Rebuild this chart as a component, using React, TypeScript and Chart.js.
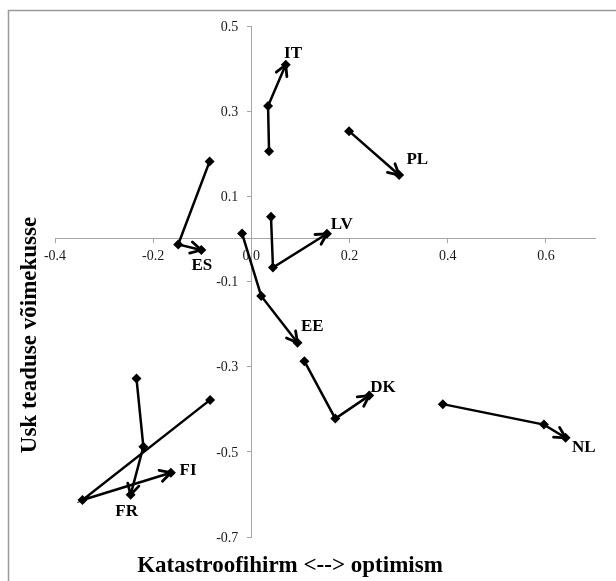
import React, { useEffect, useRef } from 'react';
import { Chart, registerables } from 'chart.js';

Chart.register(...registerables);

// ---- Data ----
const countries = ['IT', 'PL', 'ES', 'LV', 'EE', 'DK', 'NL', 'FR', 'FI'];

const itX = [0.036, 0.034, 0.070];
const itY = [0.206, 0.312, 0.409];
const plX = [0.199, 0.301];
const plY = [0.253, 0.150];
const esX = [-0.085, -0.149, -0.102];
const esY = [0.182, -0.013, -0.026];
const lvX = [0.040, 0.044, 0.154];
const lvY = [0.052, -0.067, 0.012];
const eeX = [-0.019, 0.020, 0.094];
const eeY = [0.013, -0.134, -0.244];
const dkX = [0.108, 0.171, 0.240];
const dkY = [-0.287, -0.422, -0.368];
const nlX = [0.390, 0.596, 0.640];
const nlY = [-0.388, -0.436, -0.467];
const frX = [-0.234, -0.220, -0.246];
const frY = [-0.328, -0.488, -0.601];
const fiX = [-0.084, -0.344, -0.164];
const fiY = [-0.378, -0.613, -0.549];

const seriesX = [itX, plX, esX, lvX, eeX, dkX, nlX, frX, fiX];
const seriesY = [itY, plY, esY, lvY, eeY, dkY, nlY, frY, fiY];

// label anchor positions in data units
const labelX = [0.085, 0.338, -0.101, 0.184, 0.124, 0.268, 0.677, -0.254, -0.129];
const labelY = [0.434, 0.187, -0.062, 0.034, -0.207, -0.350, -0.491, -0.640, -0.545];

const xTicks = [-0.4, -0.2, 0, 0.2, 0.4, 0.6];
const yTicks = [-0.7, -0.5, -0.3, -0.1, 0.1, 0.3, 0.5];

const xTitle = 'Katastroofihirm <--> optimism';
const yTitle = 'Usk teaduse võimekusse';

const SERIF = "'Liberation Serif', 'Times New Roman', serif";
const AXIS_COLOR = '#a6a6a6';
const TICK_COLOR = '#1a1a1a';

const decorPlugin = {
  id: 'decor',
  beforeDraw(chart: any) {
    const ctx = chart.ctx;
    ctx.save();
    ctx.strokeStyle = '#9a9a9a';
    ctx.lineWidth = 1.5;
    ctx.beginPath();
    ctx.moveTo(8.5, chart.height);
    ctx.lineTo(8.5, 10.5);
    ctx.lineTo(chart.width, 10.5);
    ctx.stroke();
    ctx.restore();
  },
  afterDatasetsDraw(chart: any) {
    const ctx = chart.ctx;
    const xs = chart.scales.x;
    const ys = chart.scales.y;
    ctx.save();
    // y tick labels (left of the crossing axis)
    const axisX = xs.getPixelForValue(0);
    ctx.fillStyle = TICK_COLOR;
    ctx.font = `14px ${SERIF}`;
    ctx.textAlign = 'right';
    ctx.textBaseline = 'middle';
    yTicks.forEach((v) => {
      ctx.fillText(v.toFixed(1), axisX - 13, ys.getPixelForValue(v) + 1);
    });
    // arrowheads
    chart.data.datasets.forEach((ds: any, i: number) => {
      const meta = chart.getDatasetMeta(i);
      const pts = meta.data;
      if (pts.length < 2) return;
      const a = pts[pts.length - 2];
      const b = pts[pts.length - 1];
      const ang = Math.atan2(b.y - a.y, b.x - a.x);
      const len = 12;
      const spread = 0.5;
      ctx.strokeStyle = '#000';
      ctx.lineWidth = 2.8;
      ctx.lineCap = 'round';
      ctx.lineJoin = 'round';
      ctx.beginPath();
      ctx.moveTo(b.x - len * Math.cos(ang - spread), b.y - len * Math.sin(ang - spread));
      ctx.lineTo(b.x, b.y);
      ctx.lineTo(b.x - len * Math.cos(ang + spread), b.y - len * Math.sin(ang + spread));
      ctx.stroke();
    });
    // country labels
    ctx.fillStyle = '#000';
    ctx.font = `bold 17px ${SERIF}`;
    ctx.textAlign = 'center';
    ctx.textBaseline = 'middle';
    countries.forEach((c, i) => {
      ctx.fillText(c, xs.getPixelForValue(labelX[i]), ys.getPixelForValue(labelY[i]));
    });
    // axis titles
    ctx.font = `bold 23px ${SERIF}`;
    ctx.textBaseline = 'alphabetic';
    ctx.fillText(xTitle, 290, 572);
    ctx.save();
    ctx.translate(30, 335);
    ctx.rotate(-Math.PI / 2);
    ctx.textBaseline = 'middle';
    ctx.fillText(yTitle, 0, 0);
    ctx.restore();
    ctx.restore();
  },
};

export default function App() {
  const ref = useRef<HTMLCanvasElement | null>(null);
  useEffect(() => {
    if (!ref.current) return;
    const datasets = countries.map((c, i) => ({
      label: c,
      data: seriesX[i].map((x, j) => ({ x, y: seriesY[i][j] })),
      showLine: true,
      borderColor: '#000',
      backgroundColor: '#000',
      borderWidth: 2.5,
      pointStyle: 'rectRot',
      pointRadius: 5,
      pointBorderWidth: 0,
      pointBackgroundColor: '#000',
    }));
    const chart = new Chart(ref.current, {
      type: 'scatter',
      data: { datasets } as any,
      options: {
        responsive: false,
        animation: false,
        layout: { padding: { left: 55, right: 21, top: 26, bottom: 44 } },
        plugins: { legend: { display: false }, tooltip: { enabled: false }, title: { display: false } },
        scales: {
          x: {
            type: 'linear',
            min: -0.4,
            max: 0.7,
            position: { y: 0 } as any,
            afterBuildTicks: (s: any) => {
              s.ticks = xTicks.map((v) => ({ value: v }));
            },
            grid: { display: true, drawOnChartArea: false, drawTicks: true, tickLength: 4, color: AXIS_COLOR },
            border: { display: true, color: AXIS_COLOR, width: 1 },
            ticks: {
              font: { family: SERIF, size: 14 },
              color: TICK_COLOR,
              padding: 5,
              maxRotation: 0,
              autoSkip: false,
              callback: (v: any) => Number(v).toFixed(1),
            },
          },
          y: {
            type: 'linear',
            min: -0.7,
            max: 0.5,
            position: { x: 0 } as any,
            afterBuildTicks: (s: any) => {
              s.ticks = yTicks.map((v) => ({ value: v }));
            },
            grid: { display: true, drawOnChartArea: false, drawTicks: true, tickLength: 4, color: AXIS_COLOR },
            border: { display: true, color: AXIS_COLOR, width: 1 },
            ticks: { display: false },
          },
        },
      },
      plugins: [decorPlugin],
    } as any);
    return () => chart.destroy();
  }, []);
  return (
    <div style={{ position: 'absolute', left: 0, top: 0, width: 616, height: 581, overflow: 'hidden' }}>
      <canvas ref={ref} width={616} height={581} style={{ display: 'block' }} />
    </div>
  );
}
